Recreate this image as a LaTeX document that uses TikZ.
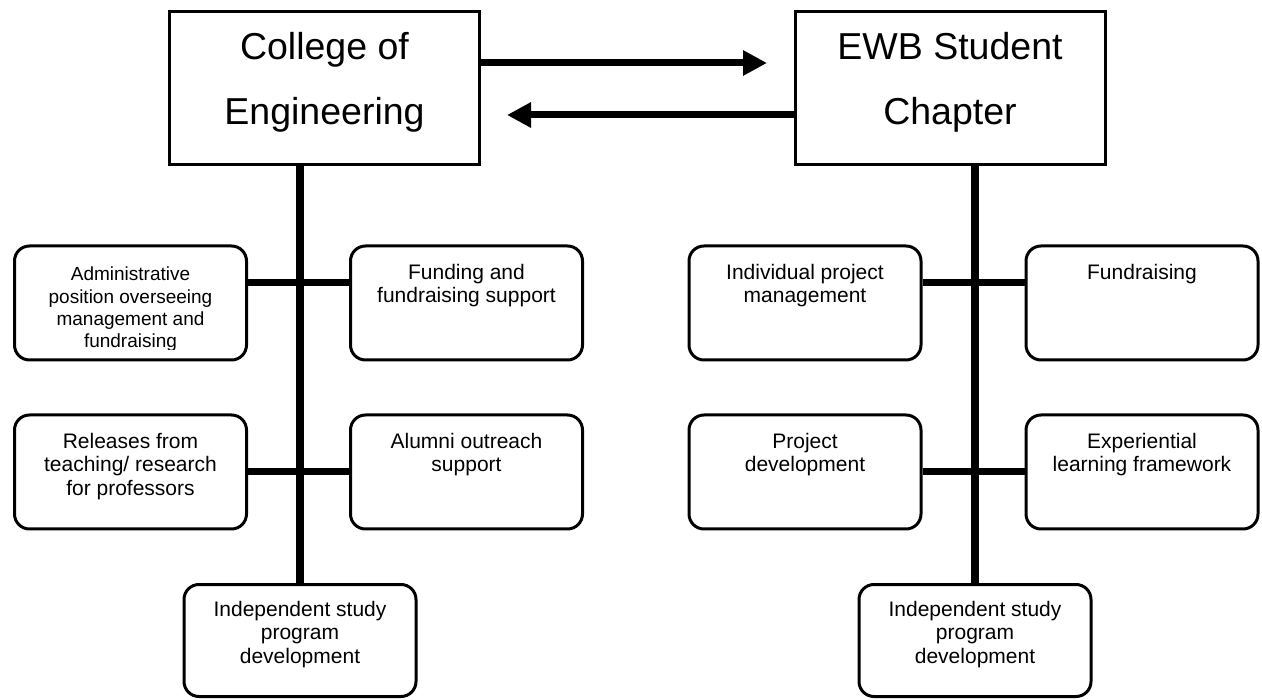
\documentclass[tikz,border=0pt]{standalone}
\usepackage{fontspec}
\setmainfont{Liberation Sans}
\usetikzlibrary{arrows.meta}
\tikzset{
  headbox/.style ={draw, line width=3pt, minimum width=310pt, minimum height=153pt, inner sep=0pt},
  headtext/.style={anchor=north, align=center, inner sep=0pt, font=\fontsize{37.5}{65}\selectfont},
  taskbox/.style ={draw, line width=3pt, rounded corners=15pt, minimum width=232pt,
                   minimum height=114pt, inner sep=0pt},
  lowbox/.style  ={taskbox, minimum height=112pt},
  tasktext/.style={anchor=north, align=center, inner sep=0pt, font=\fontsize{21}{23.5}\selectfont},
  smalltext/.style={tasktext, font=\fontsize{19}{22.3}\selectfont},
  stem/.style  ={line width=8pt},
  branch/.style={line width=7pt},
  flow/.style  ={line width=7pt, -{Triangle[length=24pt, width=24pt]}},
}
\begin{document}
\begin{tikzpicture}[x=1pt, y=-1pt]
  \useasboundingbox (0,0) rectangle (1262,700);
  % the two partners
  \node[headbox] (coe) at (324.5,88) {};
  \node[headtext] (coe-t) at ([yshift=-22pt]coe.north) {College of\\Engineering};
  \node[headbox] (ewb) at (950,88) {};
  \node[headtext] (ewb-t) at ([yshift=-22pt]ewb.north) {EWB Student\\Chapter};
  \coordinate (toewb) at (767,63);
  \coordinate (tocoe) at (507,115);
  \draw[flow] (coe.east |- toewb) -- (toewb);
  \draw[flow] (ewb.west |- tocoe) -- (tocoe);

  % college side
  \node[taskbox] (adm)  at (130.5,303) {};
  \node[taskbox] (fund) at (466.5,303) {};
  \node[taskbox] (rel)  at (130.5,472) {};
  \node[taskbox] (alum) at (466.5,472) {};
  \node[lowbox]  (isL)  at (300,640.5) {};
  \begin{scope}
    \clip (adm.north west) rectangle ([yshift=12pt]adm.south east);
    \node[smalltext] (adm-t) at ([yshift=-22.5pt]adm.north)
      {Administrative\\position overseeing\\management and\\fundraising};
  \end{scope}
  \node[tasktext] (fund-t) at ([yshift=-19.5pt]fund.north) {Funding and\\fundraising support};
  \node[tasktext] (rel-t)  at ([yshift=-19.5pt]rel.north) {Releases from\\teaching/ research\\for professors};
  \node[tasktext] (alum-t) at ([yshift=-19.5pt]alum.north) {Alumni outreach\\support};
  \node[tasktext] (isL-t)  at ([yshift=-18pt]isL.north) {Independent study\\program\\development};
  \draw[stem] (isL.north |- coe.south) -- (isL.north);
  \draw[branch] ([yshift=20pt]adm.east) -- ([yshift=20pt]fund.west);
  \draw[branch] (rel.east) -- (alum.west);

  % chapter side
  \node[taskbox] (ipm)  at (805,303) {};
  \node[taskbox] (frs)  at (1142,303) {};
  \node[taskbox] (pdev) at (805,472) {};
  \node[taskbox] (exl)  at (1142,472) {};
  \node[lowbox]  (isR)  at (975,640.5) {};
  \node[tasktext] (ipm-t)  at ([yshift=-19.5pt]ipm.north) {Individual project\\management};
  \node[tasktext] (frs-t)  at ([yshift=-19.5pt]frs.north) {Fundraising};
  \node[tasktext] (pdev-t) at ([yshift=-19.5pt]pdev.north) {Project\\development};
  \node[tasktext] (exl-t)  at ([yshift=-19.5pt]exl.north) {Experiential\\learning framework};
  \node[tasktext] (isR-t)  at ([yshift=-18pt]isR.north) {Independent study\\program\\development};
  \draw[stem] (isR.north |- ewb.south) -- (isR.north);
  \draw[branch] ([yshift=20pt]ipm.east) -- ([yshift=20pt]frs.west);
  \draw[branch] (pdev.east) -- (exl.west);
\end{tikzpicture}
\end{document}
